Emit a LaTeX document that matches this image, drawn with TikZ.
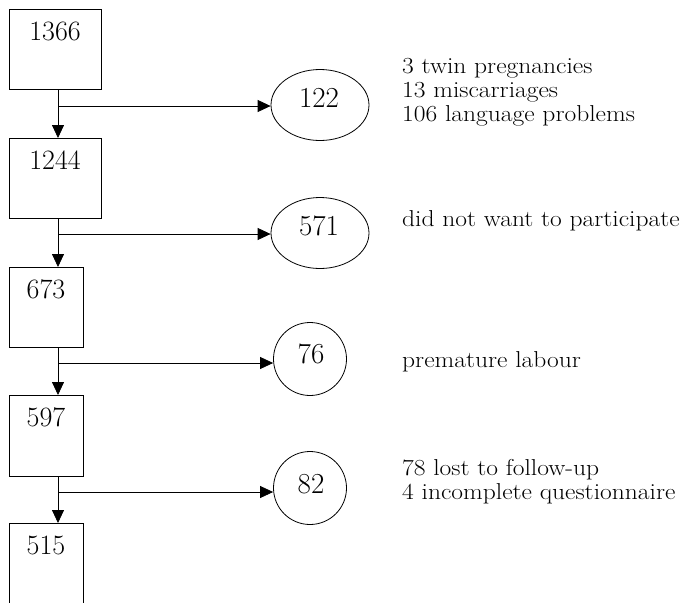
\documentclass[tikz,border=0pt]{standalone}
\usepackage{fontspec}
\setmainfont{Latin Modern Roman}
\newfontfamily\notefont[FakeStretch=1.11]{Latin Modern Roman}
\usetikzlibrary{shapes.geometric,arrows.meta}
\begin{document}
\begin{tikzpicture}[x=1pt,y=-1pt,
  box/.style={draw, line width=0.8pt, inner sep=0pt, anchor=north west},
  oval/.style={draw, ellipse, line width=0.8pt, inner sep=0pt, minimum width=98pt, minimum height=71pt},
  circ/.style={draw, circle, line width=0.8pt, inner sep=0pt, minimum size=73pt},
  num/.style={anchor=base, inner sep=0pt, font=\fontsize{28}{30}\selectfont},
  onum/.style={anchor=base, inner sep=0pt, font=\fontsize{29}{31}\selectfont},
  note/.style={anchor=base west, inner sep=0pt, font=\notefont\fontsize{23}{24}\selectfont},
  arr/.style={line width=0.8pt, -{Triangle[length=13pt,width=12pt]}},
]
\fill[white] (0,0) rectangle (697,603);
\clip (0,0) rectangle (697,603);

% boxes
\node[box, minimum width=92pt, minimum height=80pt] (b1) at (9,9) {};
\node[box, minimum width=92pt, minimum height=80pt] (b2) at (9,138) {};
\node[box, minimum width=74pt, minimum height=80pt] (b3) at (9,267) {};
\node[box, minimum width=74pt, minimum height=81pt] (b4) at (9,395) {};
\node[box, minimum width=74pt, minimum height=120pt] (b5) at (9,523) {};

\node[num] (t1) at (55,40) {1366};
\node[num] (t2) at (55,169) {1244};
\node[num] (t3) at (46,298) {673};
\node[num] (t4) at (46,426) {597};
\node[num] (t5) at (46,554) {515};

% exclusions
\node[oval] (e1) at (320,105) {};
\node[oval] (e2) at (320,233) {};
\node[circ] (e3) at (310,359) {};
\node[circ] (e4) at (310,488) {};

\node[onum] (n1) at (319,107) {122};
\node[onum] (n2) at (319,235) {571};
\node[onum] (n3) at (311,363) {76};
\node[onum] (n4) at (311,493) {82};

% junctions
\coordinate (j1) at (58,106);
\coordinate (j2) at (58,234);
\coordinate (j3) at (58,363);
\coordinate (j4) at (58,492);

\draw[arr] (b1.south -| j1) -- (b2.north -| j1);
\draw[arr] (b2.south -| j2) -- (b3.north -| j2);
\draw[arr] (b3.south -| j3) -- (b4.north -| j3);
\draw[arr] (b4.south -| j4) -- (b5.north -| j4);

\draw[arr] (j1) -- (j1 -| e1.west);
\draw[arr] (j2) -- (j2 -| e2.west);
\draw[arr] (j3) -- (j3 -| e3.west);
\draw[arr] (j4) -- (j4 -| e4.west);

% notes
\node[note] (a1) at (402,73) {3 twin pregnancies};
\node[note] (a2) at (402,97) {13 miscarriages};
\node[note] (a3) at (402,121) {106 language problems};
\node[note] (a4) at (402,226) {did not want to participate};
\node[note] (a5) at (402,367) {premature labour};
\node[note] (a6) at (402,475) {78 lost to follow-up};
\node[note] (a7) at (402,499) {4 incomplete questionnaire};
\end{tikzpicture}
\end{document}
